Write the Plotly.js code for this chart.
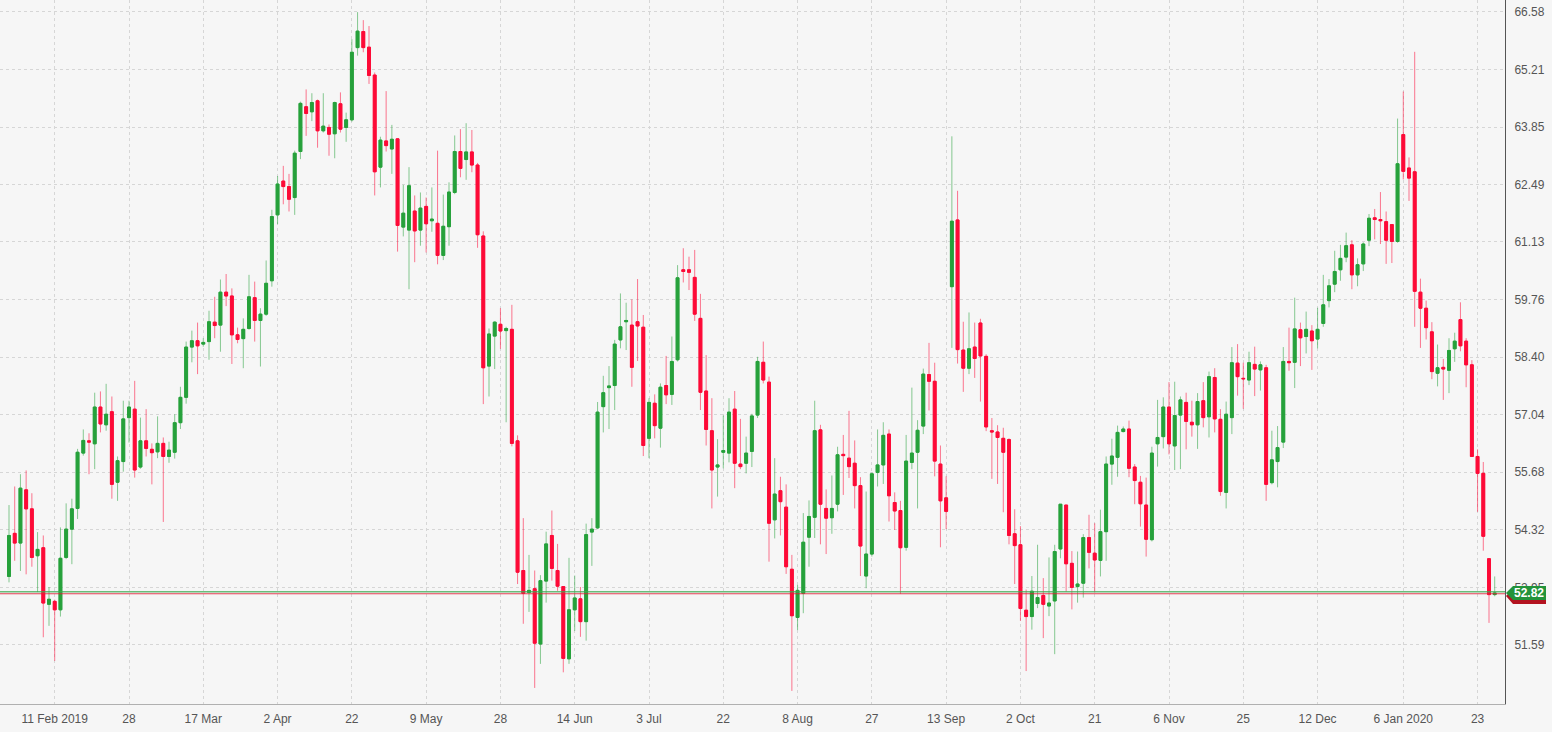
<!DOCTYPE html>
<html>
<head>
<meta charset="utf-8">
<script src="https://cdn.plot.ly/plotly-3.0.1.min.js"></script>
<style>
html,body{margin:0;padding:0;background:#f6f6f6;}
#chart{width:1552px;height:732px;}
</style>
</head>
<body>
<div id="chart"></div>
<script>
// ---- data (daily candles) ----
const openP = [
53.21,54.23,54.00,55.26,54.81,53.70,53.89,52.55,52.62,52.42,
53.66,54.33,54.82,56.13,56.42,56.35,57.22,56.80,57.11,55.44,
55.93,56.97,57.17,55.80,56.42,56.22,56.16,56.36,56.05,56.15,
56.85,57.45,58.64,58.79,58.71,58.77,59.23,59.16,59.94,59.85,
58.93,58.84,59.08,59.81,59.27,59.42,60.21,61.77,62.57,62.44,
62.18,63.27,64.33,64.21,64.47,63.76,63.84,63.69,64.40,63.84,
64.02,65.73,66.11,65.74,65.08,62.90,63.52,63.33,63.57,61.48,
61.41,61.86,61.41,61.97,61.63,61.57,60.81,61.49,62.30,63.27,
63.08,63.26,62.95,61.27,58.19,58.90,59.18,59.03,59.06,56.42,
53.35,52.83,52.92,51.61,53.10,54.18,53.35,52.97,51.26,52.42,
52.68,52.14,54.26,54.36,57.23,57.68,57.73,58.81,59.24,59.16,
59.24,59.11,56.48,57.31,56.72,57.73,57.52,58.34,60.47,60.47,
60.29,59.32,57.60,56.66,55.80,56.15,56.13,57.17,55.87,55.89,
56.17,57.03,58.28,57.81,54.55,55.24,54.85,53.38,52.24,52.81,
54.14,54.61,56.68,54.82,54.60,54.92,56.10,56.01,55.89,55.36,
53.22,53.74,55.67,55.85,56.58,54.96,54.77,53.90,55.91,56.15,
56.77,57.99,57.83,55.87,55.07,60.07,61.65,58.57,58.14,58.64,
59.21,58.42,56.66,56.63,56.48,56.45,54.22,53.96,52.41,52.26,
52.57,52.76,52.51,52.63,53.86,54.90,53.52,52.97,53.05,54.13,
53.76,53.59,54.27,55.87,56.03,56.64,56.70,55.80,55.44,54.90,
54.08,56.35,56.52,57.22,56.30,57.03,57.33,56.86,56.80,57.37,
56.99,57.92,56.93,55.20,56.97,58.26,57.90,57.86,58.23,58.10,
58.15,55.43,55.93,56.39,58.30,58.28,59.05,58.89,59.02,58.83,
59.20,59.74,60.13,60.47,60.77,61.06,60.35,60.61,61.17,61.70,
61.66,61.61,61.54,61.14,63.67,62.88,62.79,59.94,59.56,59.00,
58.02,58.16,58.09,58.60,59.29,58.78,58.22,56.05,55.65,53.63,
52.78
];
const highP = [
54.90,55.34,55.63,55.72,55.18,54.26,54.18,52.96,52.66,54.37,
54.94,55.05,56.23,56.69,56.60,57.56,57.59,57.77,57.47,56.05,
57.37,57.37,57.84,56.97,57.17,56.36,57.00,56.50,56.40,57.05,
57.70,58.77,59.03,59.22,58.85,59.50,59.83,60.24,60.37,60.03,
59.10,59.32,60.35,60.19,59.56,60.69,61.89,62.69,62.93,62.74,
63.29,64.45,64.74,64.65,64.50,64.65,63.91,64.45,64.67,64.19,
65.93,66.57,66.38,66.24,65.14,63.62,64.70,63.90,63.58,62.48,
62.90,62.23,62.30,62.18,62.42,63.29,62.25,62.54,63.65,63.80,
63.94,63.78,63.00,61.38,59.08,59.25,59.56,59.12,59.64,56.55,
54.59,53.72,53.35,53.24,54.27,54.77,53.98,52.98,53.65,53.23,
52.96,54.46,54.59,57.34,57.96,58.19,58.81,59.91,59.69,59.77,
60.25,59.40,57.43,57.52,57.78,58.43,58.89,60.58,60.98,60.78,
60.94,59.90,58.45,57.43,56.46,57.02,57.43,57.60,56.94,56.52,
57.06,58.41,58.77,57.94,56.01,55.57,55.39,53.72,53.01,54.71,
55.01,57.37,56.80,55.27,55.60,56.28,56.56,57.13,56.43,55.56,
55.22,55.67,56.69,56.86,56.69,55.20,55.00,56.56,57.68,56.91,
58.13,58.74,58.27,56.31,55.58,63.63,62.34,59.24,59.46,59.22,
59.31,58.47,56.96,56.79,56.73,56.48,54.80,54.40,52.90,53.22,
53.96,53.17,53.66,53.96,54.92,54.90,53.81,53.80,54.21,54.67,
54.47,54.79,56.05,56.47,56.78,56.76,56.90,55.87,55.59,55.55,
56.28,57.39,57.45,57.81,57.82,57.47,57.56,57.37,57.55,57.81,
58.06,58.14,57.17,57.35,58.64,58.71,58.27,58.53,58.65,58.30,
58.22,56.66,56.77,58.64,59.10,59.81,59.22,59.48,59.16,59.57,
60.35,60.25,60.92,61.06,61.35,61.17,60.74,61.12,61.79,61.91,
62.31,61.85,61.54,64.05,64.69,63.13,65.63,60.26,59.74,59.23,
58.70,58.36,58.85,58.98,59.70,58.85,58.33,56.22,55.92,53.64,
53.21
];
const lowP = [
53.07,53.58,53.34,53.26,53.44,52.84,51.77,52.04,51.21,52.26,
53.62,53.50,54.57,56.07,55.63,55.75,56.62,56.66,55.05,55.00,
55.69,56.38,55.55,55.76,56.05,55.39,56.01,54.50,55.90,56.00,
56.70,57.30,58.28,58.00,58.65,58.34,58.85,58.53,59.61,58.24,
58.73,58.14,59.05,58.77,58.18,59.38,60.07,61.55,62.02,61.85,
61.77,63.09,63.64,63.99,63.36,63.72,63.17,63.11,63.72,63.50,
63.98,65.54,65.62,64.87,62.23,62.42,63.27,62.74,60.90,61.26,
60.01,60.65,61.04,60.88,61.37,60.60,60.70,61.04,62.26,62.66,
62.60,62.78,60.99,57.29,57.47,58.12,58.60,56.86,56.29,53.03,
52.09,52.37,50.57,51.14,52.59,53.11,52.87,50.94,51.14,51.92,
51.78,51.69,53.46,54.33,56.62,56.70,57.15,58.61,58.57,57.70,
58.31,56.06,56.01,56.48,56.26,57.29,57.27,58.30,60.17,59.99,
59.26,57.15,56.31,54.82,55.10,55.77,55.91,55.30,55.75,55.65,
55.80,56.96,57.78,53.56,54.11,54.18,53.27,50.50,51.94,52.34,
53.44,54.12,53.97,53.74,54.22,54.75,55.14,55.54,54.82,53.22,
52.93,53.68,55.34,55.40,54.51,54.31,52.80,53.82,55.75,54.82,
56.58,57.14,55.58,53.90,54.33,58.62,58.25,57.58,58.00,57.91,
57.35,56.65,55.52,55.40,54.73,53.97,53.03,52.16,50.97,51.95,
52.46,51.75,52.27,51.37,53.64,52.85,52.43,52.59,52.71,53.40,
52.83,53.21,53.58,55.38,55.57,56.62,55.56,54.92,54.39,53.68,
54.04,55.81,56.24,56.10,55.73,55.75,56.22,56.52,56.23,56.74,
56.50,56.62,55.12,54.82,56.58,57.49,57.18,57.74,57.48,57.61,
55.00,55.39,55.32,56.25,58.08,57.67,58.19,58.49,58.10,58.61,
59.12,59.58,59.94,60.21,60.65,60.01,60.08,60.44,61.03,61.19,
61.08,60.61,60.63,61.11,62.61,62.10,59.12,58.62,58.82,57.88,
57.71,57.39,57.55,58.29,58.54,57.69,56.04,54.74,53.82,52.11,
52.74
];
const closeP = [
54.18,54.00,55.30,54.81,53.66,53.85,52.58,52.67,52.42,53.64,
54.33,54.81,56.15,56.43,56.39,57.22,56.82,57.05,55.39,55.95,
56.94,57.22,55.73,56.42,56.24,56.14,56.36,56.05,56.20,56.85,
57.45,58.64,58.79,58.67,58.75,59.24,59.15,59.94,59.85,58.93,
58.82,59.06,59.83,59.27,59.42,60.15,61.73,62.50,62.44,62.14,
63.23,64.41,64.17,64.43,63.76,63.87,63.68,64.43,63.80,64.02,
65.62,66.12,65.73,65.07,62.79,63.54,63.41,63.56,61.52,61.81,
62.46,61.39,61.93,61.56,61.67,60.81,61.50,62.31,63.27,62.87,
63.26,62.95,61.30,58.15,58.95,59.23,59.02,59.08,56.36,53.31,
52.81,52.88,51.63,53.11,53.98,53.40,52.98,51.27,52.42,52.70,
52.14,54.20,54.33,57.10,57.56,57.72,58.71,59.12,59.27,58.16,
59.14,56.31,57.33,56.78,57.69,57.51,58.30,60.28,60.43,60.41,
59.42,57.57,56.69,55.73,55.85,56.19,57.10,55.89,55.81,56.13,
57.01,58.30,57.86,54.47,55.16,54.98,53.44,52.28,52.88,54.02,
54.63,56.66,54.92,54.59,54.82,56.09,56.07,55.81,55.36,53.93,
53.74,55.64,55.85,56.55,55.12,54.76,53.89,55.94,56.13,56.67,
58.00,57.83,55.94,55.00,54.75,61.62,58.58,58.14,58.60,58.37,
58.43,56.75,56.63,56.50,56.15,54.18,53.94,52.45,52.26,52.86,
52.71,52.55,52.58,53.80,54.92,53.51,52.95,53.03,54.13,53.78,
53.60,54.27,55.87,56.06,56.62,56.70,55.77,55.48,54.93,54.09,
56.13,56.50,57.22,56.35,57.02,57.39,56.88,56.80,57.35,56.97,
57.94,56.94,55.22,57.05,58.27,57.94,57.89,58.27,58.12,58.22,
55.39,55.97,56.26,58.30,58.27,59.07,58.86,59.06,58.79,59.06,
59.64,60.09,60.43,60.74,61.04,60.35,60.59,61.08,61.69,61.66,
61.63,61.17,61.14,62.98,62.80,62.64,59.96,59.56,59.10,58.06,
58.15,58.12,58.56,58.78,58.67,58.22,56.05,55.65,54.16,52.78,
52.82
];
const tickIndex = [8,21,34,47,60,73,86,99,112,125,138,151,164,177,190,203,216,229,244,257];
const tickLabels = ["11 Feb 2019","28","17 Mar","2 Apr","22","9 May","28","14 Jun","3 Jul","22",
                    "8 Aug","27","13 Sep","2 Oct","21","6 Nov","25","12 Dec","6 Jan 2020","23"];
const priceTicks = [51.59,52.95,54.32,55.68,57.04,58.40,59.76,61.13,62.49,63.85,65.21,66.58];
const lastPrice = 52.82;

// ---- build ----
const idx = openP.map((_, i) => i);
const bodyHigh = openP.map((o, i) => Math.max(o, closeP[i]));
const bodyLow = openP.map((o, i) => Math.min(o, closeP[i]));

const UP = '#26a13b', DN = '#fd0a37';
const UPW = 'rgba(38,161,59,0.55)', DNW = 'rgba(253,10,55,0.55)';

const wicks = {
  type: 'candlestick', x: idx, open: openP, high: highP, low: lowP, close: closeP,
  increasing: {line: {color: UPW, width: 1}, fillcolor: UPW},
  decreasing: {line: {color: DNW, width: 1}, fillcolor: DNW},
  whiskerwidth: 0, hoverinfo: 'skip', showlegend: false
};
const bodies = {
  type: 'candlestick', x: idx, open: openP, high: bodyHigh, low: bodyLow, close: closeP,
  increasing: {line: {color: UP, width: 1}, fillcolor: UP},
  decreasing: {line: {color: DN, width: 1}, fillcolor: DN},
  whiskerwidth: 0, hoverinfo: 'skip', showlegend: false
};

const layout = {
  width: 1552, height: 732,
  margin: {l: 0, r: 47, t: 0, b: 28},
  paper_bgcolor: '#f6f6f6', plot_bgcolor: '#f6f6f6',
  showlegend: false,
  boxgap: 0.28,
  font: {family: 'Liberation Sans, Arial, sans-serif', size: 12, color: '#555'},
  xaxis: {
    type: 'linear', range: [-1.575, 261.8], fixedrange: true,
    tickmode: 'array', tickvals: tickIndex, ticktext: tickLabels,
    showgrid: true, gridcolor: '#d6d6d6', griddash: 'dot', gridwidth: 1,
    zeroline: false, showline: true, linecolor: '#b0b0b0', linewidth: 1,
    ticks: '', ticklabelstandoff: 4,
    tickfont: {size: 12, color: '#555'},
    rangeslider: {visible: false}
  },
  yaxis: {
    side: 'right', range: [50.19, 66.857], fixedrange: true,
    tickmode: 'array', tickvals: priceTicks, ticktext: priceTicks.map(v => v.toFixed(2)),
    showgrid: true, gridcolor: '#d6d6d6', griddash: 'dot', gridwidth: 1,
    zeroline: false, showline: true, linecolor: '#555', linewidth: 1,
    ticks: '', ticklabelstandoff: 6,
    tickfont: {size: 12, color: '#555'}
  },
  shapes: [
    {type: 'line', xref: 'paper', x0: 0, x1: 1, yref: 'y', y0: lastPrice + 0.03, y1: lastPrice + 0.03,
     line: {color: 'rgba(60,170,80,0.75)', width: 1.5}, layer: 'above'},
    {type: 'line', xref: 'paper', x0: 0, x1: 1, yref: 'y', y0: lastPrice - 0.02, y1: lastPrice - 0.02,
     line: {color: 'rgba(225,30,55,0.85)', width: 1.2}, layer: 'above'},
    {type: 'path', xref: 'paper', yref: 'y', xsizemode: 'pixel', ysizemode: 'pixel',
     xanchor: 1, yanchor: lastPrice, path: 'M1,-3 L8,4 L41,4 L41,-11 L8,-11 Z',
     fillcolor: '#b3121f', line: {width: 0}, layer: 'above'},
    {type: 'path', xref: 'paper', yref: 'y', xsizemode: 'pixel', ysizemode: 'pixel',
     xanchor: 1, yanchor: lastPrice, path: 'M1,0 L8,7 L41,7 L41,-7 L8,-7 Z',
     fillcolor: '#22933a', line: {width: 0}, layer: 'above'}
  ],
  annotations: [
    {xref: 'paper', x: 1, xanchor: 'left', xshift: 7, yref: 'y', y: lastPrice, yanchor: 'middle',
     text: '<b>' + lastPrice.toFixed(2) + '</b>', showarrow: false,
     font: {family: 'Liberation Sans, Arial, sans-serif', size: 12, color: '#ffffff'}}
  ]
};

Plotly.newPlot('chart', [wicks, bodies], layout, {staticPlot: true, displayModeBar: false});
</script>
</body>
</html>
